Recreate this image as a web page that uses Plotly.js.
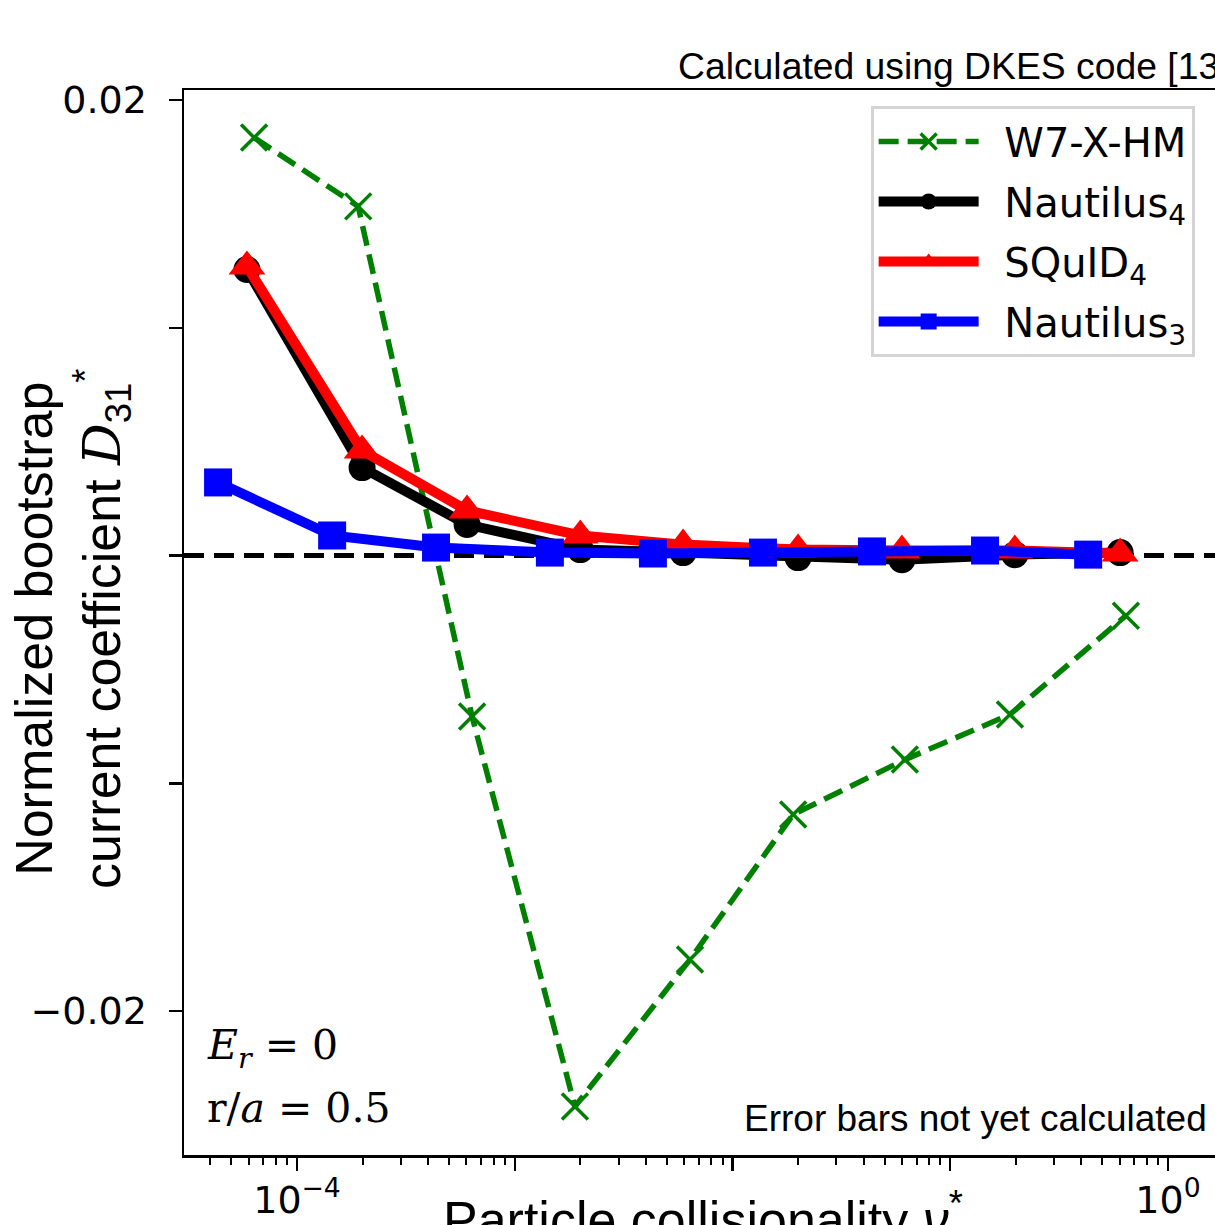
<!DOCTYPE html>
<html>
<head>
<meta charset="utf-8">
<script src="https://cdn.plot.ly/plotly-3.0.1.min.js"></script>
<style>
html, body { margin:0; padding:0; background:#fff; overflow:hidden; width:1215px; height:1225px; }
#chart { width:1215px; height:1225px; }
</style>
</head>
<body>
<div id="chart"></div>
<script>
// ---- data ----
const seriesNames = ["W7-X-HM", "Nautilus<sub>4</sub>", "SQuID<sub>4</sub>", "Nautilus<sub>3</sub>"];

const xW7X = [6.35e-5, 1.91e-4, 6.37e-4, 1.89e-3, 6.38e-3, 0.0190, 0.0619, 0.188, 0.641];
const yW7X = [0.01835, 0.01533, -0.00707, -0.02419, -0.01774, -0.01137, -0.00896, -0.00698, -0.00264];

const xNaut4 = [5.89e-5, 1.99e-4, 6.04e-4, 2.00e-3, 5.93e-3, 0.0200, 0.0600, 0.198, 0.603];
const yNaut4 = [0.01256, 0.00386, 0.00136, 0.00026, 0.00013, -0.00009, -0.00018, 0.00004, 0.00013];

const xSquid4 = [5.89e-5, 1.99e-4, 6.04e-4, 2.00e-3, 5.93e-3, 0.0200, 0.0600, 0.198, 0.603];
const ySquid4 = [0.01269, 0.00461, 0.00198, 0.00088, 0.00048, 0.00026, 0.00022, 0.00022, 0.00009];

const xNaut3 = [4.34e-5, 1.45e-4, 4.35e-4, 1.45e-3, 4.31e-3, 0.0138, 0.0437, 0.1445, 0.430];
const yNaut3 = [0.00321, 0.00088, 0.00035, 0.00013, 0.00009, 0.00013, 0.00018, 0.00022, 0.00004];

const xTickVals = [1e-4, 1e-3, 1e-2, 1e-1, 1];
const xTickText = ["10<sup>−4</sup>", "", "", "", "10<sup>0</sup>"];
const yTickVals = [0.02, -0.02];
const yTickText = ["0.02", "−0.02"];
const yUnlabelledTicks = [0.01, 0, -0.01];

// minor ticks 2..9 in each decade
const minorVals = [];
for (let e = -5; e <= 0; e++) {
  for (let m = 2; m <= 9; m++) minorVals.push(m * Math.pow(10, e));
}

const SANS = "DejaVu Sans";
const ARIAL = "Liberation Sans, Arial";
const SERIF = "DejaVu Serif";
const PAD = "\u00a0\u2009";

const traces = [
  {
    x: xW7X, y: yW7X, name: PAD + seriesNames[0], legendgroup: "g1", type: "scatter", mode: "lines+markers",
    line: {color: "#008000", width: 5.5, dash: "20px,9px"},
    marker: {symbol: "x-thin", size: 26, color: "#008000", line: {color: "#008000", width: 3.5}}
  },
  {
    x: xNaut4, y: yNaut4, name: PAD + seriesNames[1], legendgroup: "g2", type: "scatter", mode: "lines+markers",
    line: {color: "#000000", width: 10},
    marker: {symbol: "circle", size: 27, color: "#000000"}
  },
  {
    x: xSquid4, y: ySquid4, name: PAD + seriesNames[2], legendgroup: "g3", type: "scatter", mode: "lines+markers",
    line: {color: "#ff0000", width: 10},
    marker: {symbol: "triangle-up", size: 32, color: "#ff0000"}
  },
  {
    x: xNaut3, y: yNaut3, name: PAD + seriesNames[3], legendgroup: "g4", type: "scatter", mode: "lines+markers",
    line: {color: "#0000ff", width: 10},
    marker: {symbol: "square", size: 28, color: "#0000ff"}
  }
];

const layout = {
  width: 1215, height: 1225,
  margin: {l: 184, r: 0, t: 90, b: 70, pad: 0},
  paper_bgcolor: "#ffffff", plot_bgcolor: "#ffffff",
  showlegend: true,
  font: {family: SANS, size: 38, color: "#000"},
  xaxis: {
    type: "log",
    range: [-4.519, 0.216],
    autorange: false,
    showgrid: false, zeroline: false,
    showline: true, linecolor: "#000", linewidth: 2.5, mirror: true,
    ticks: "outside", ticklen: 13, tickwidth: 2.5, tickcolor: "#000",
    tickmode: "array", tickvals: xTickVals, ticktext: xTickText,
    tickfont: {family: SANS, size: 38, color: "#000"},
    ticklabelstandoff: -3,
    minor: {ticks: "outside", ticklen: 7, tickwidth: 2, tickcolor: "#000", tickvals: minorVals, showgrid: false},
    automargin: false
  },
  yaxis: {
    range: [-0.02632, 0.02044],
    autorange: false,
    showgrid: false, zeroline: false,
    showline: true, linecolor: "#000", linewidth: 2.5, mirror: false,
    ticks: "outside", ticklen: 13, tickwidth: 2.5, tickcolor: "#000",
    tickmode: "array", tickvals: yTickVals, ticktext: yTickText,
    tickfont: {family: SANS, size: 38, color: "#000"},
    ticklabelstandoff: 14,
    minor: {ticks: "outside", ticklen: 13, tickwidth: 2.5, tickcolor: "#000", tickvals: yUnlabelledTicks, showgrid: false},
    automargin: false
  },
  legend: {
    x: 0.666, y: 0.985, xanchor: "left", yanchor: "top",
    bgcolor: "rgba(255,255,255,0.85)", bordercolor: "#d4d4d4", borderwidth: 3,
    font: {family: SANS, size: 40, color: "#000"},
    itemwidth: 100, tracegroupgap: 5, traceorder: "grouped"
  },
  shapes: [
    {type: "line", xref: "paper", x0: 0, x1: 1, yref: "y", y0: 0, y1: 0,
     line: {color: "#000", width: 5, dash: "20px,10px"}, layer: "below"}
  ],
  annotations: [
    {text: "Calculated using DKES code [13]", xref: "paper", yref: "paper",
     x: 0.4772, y: 1.0225, xanchor: "left", yanchor: "middle", showarrow: false,
     font: {family: ARIAL, size: 37.3, color: "#000"}},
    {text: "Error bars not yet calculated", xref: "paper", yref: "paper",
     x: 0.994, y: 0.0347, xanchor: "right", yanchor: "middle", showarrow: false,
     font: {family: ARIAL, size: 37, color: "#000"}},
    {text: "<i>E</i><sub><i>r</i></sub> = 0", xref: "paper", yref: "paper",
     x: 0.0204, y: (1155 - 1048) / 1065, xanchor: "left", yanchor: "middle", showarrow: false,
     font: {family: SERIF, size: 41, color: "#000"}},
    {text: "r/<i>a</i> = 0.5", xref: "paper", yref: "paper",
     x: 0.0204, y: (1155 - 1108) / 1065, xanchor: "left", yanchor: "middle", showarrow: false,
     font: {family: SERIF, size: 41, color: "#000"}},
    {text: "Particle collisionality <i>ν</i><sup>*</sup>", xref: "paper", yref: "paper",
     x: 0.503, y: -0.0573, xanchor: "center", yanchor: "middle", showarrow: false,
     font: {family: ARIAL, size: 52, color: "#000"}},
    {text: "Normalized bootstrap<br>current coefficient <span style=\"font-family:DejaVu Serif\"><i>D</i></span><sub>31</sub><sup>*</sup>",
     xref: "paper", yref: "paper",
     x: (72 - 184) / 1031, y: 0.494, xanchor: "center", yanchor: "middle", textangle: -90, showarrow: false,
     font: {family: ARIAL, size: 52, color: "#000"}}
  ]
};

Plotly.newPlot("chart", traces, layout, {displayModeBar: false, staticPlot: true});
</script>
</body>
</html>
